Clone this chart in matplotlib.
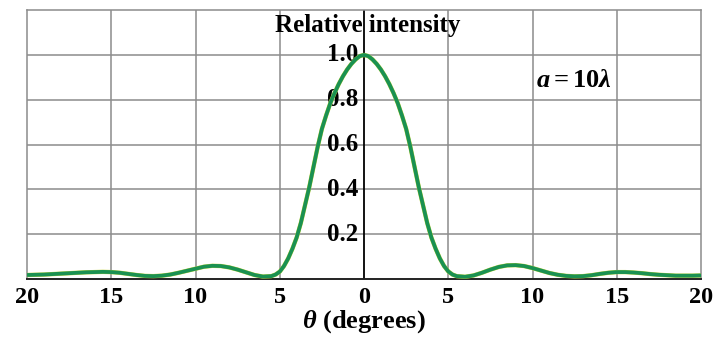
import matplotlib
matplotlib.use("Agg")
import matplotlib.pyplot as plt

# single-slit pattern, a = 10 lambda
theta_deg = [-20, -19.5, -19, -18.5, -18, -17.5, -17, -16.5, -16, -15.5, -15,
             -14.5, -14, -13.5, -13, -12.5, -12, -11.5, -11, -10.5, -10,
             -9.5, -9, -8.5, -8, -7.5, -7, -6.5, -6, -5.5, -5.25, -5,
             -4.75, -4.5, -4.25, -4, -3.75, -3.5, -3.25, -3, -2.75, -2.5,
             -2.25, -2, -1.75, -1.5, -1.25, -1, -0.75, -0.5, -0.25, 0,
             0.25, 0.5, 0.75, 1, 1.25, 1.5, 1.75, 2, 2.25, 2.5, 2.75, 3,
             3.25, 3.5, 3.75, 4, 4.25, 4.5, 4.75, 5, 5.25, 5.5, 6, 6.5, 7,
             7.5, 8, 8.5, 9, 9.5, 10, 10.5, 11, 11.5, 12, 12.5, 13, 13.5,
             14, 14.5, 15, 15.5, 16, 16.5, 17, 17.5, 18, 18.5, 19, 19.5, 20]
intensity = [0.018, 0.019, 0.020, 0.022, 0.024, 0.026, 0.028, 0.030, 0.031, 0.032, 0.031,
             0.028, 0.023, 0.018, 0.014, 0.013, 0.015, 0.020, 0.028, 0.037, 0.046,
             0.055, 0.059, 0.058, 0.052, 0.042, 0.030, 0.018, 0.011, 0.013, 0.020, 0.033,
             0.058, 0.092, 0.135, 0.185, 0.25, 0.33, 0.41, 0.50, 0.59, 0.67,
             0.73, 0.785, 0.83, 0.87, 0.905, 0.935, 0.96, 0.98, 0.995, 1.0,
             0.995, 0.98, 0.96, 0.935, 0.905, 0.87, 0.83, 0.785, 0.73, 0.67, 0.59, 0.50,
             0.41, 0.33, 0.25, 0.185, 0.135, 0.092, 0.058, 0.034, 0.020, 0.013, 0.010, 0.016, 0.028,
             0.042, 0.054, 0.061, 0.062, 0.058, 0.049, 0.038, 0.027, 0.019, 0.014, 0.012, 0.013, 0.017,
             0.023, 0.028, 0.031, 0.031, 0.029, 0.026, 0.022, 0.019, 0.017, 0.015, 0.015, 0.015, 0.016]

x_ticks = [-20, -15, -10, -5, 0, 5, 10, 15, 20]
x_tick_labels = ["20", "15", "10", "5", "0", "5", "10", "15", "20"]
y_levels = [0.2, 0.4, 0.6, 0.8, 1.0]
y_level_labels = ["0.2", "0.4", "0.6", "0.8", "1.0"]

plt.rcParams["font.family"] = ["Liberation Serif", "DejaVu Serif"]
plt.rcParams["font.weight"] = "bold"
plt.rcParams["mathtext.fontset"] = "custom"
plt.rcParams["mathtext.rm"] = "Liberation Serif:bold"
plt.rcParams["mathtext.it"] = "Liberation Serif:italic:bold"
plt.rcParams["mathtext.bf"] = "Liberation Serif:bold"

GRID = "#8c8c8c"

fig = plt.figure(figsize=(7.17, 3.37), dpi=100)
ax = fig.add_axes([0.0377, 0.172, 0.940, 0.798])

ax.set_xlim(-20, 20)
ax.set_ylim(0, 1.2)

for xv in x_ticks[1:-1]:
    if xv == 0:
        ax.axvline(xv, color="black", lw=1.3, zorder=2)
    else:
        ax.axvline(xv, color=GRID, lw=1.1, zorder=1)
for yv in y_levels:
    ax.axhline(yv, color=GRID, lw=1.1, zorder=1)

for sp in ["top", "left", "right"]:
    ax.spines[sp].set_color(GRID)
    ax.spines[sp].set_linewidth(1.1)
ax.spines["bottom"].set_color("#222222")
ax.spines["bottom"].set_linewidth(1.4)

ax.set_xticks(x_ticks)
ax.set_xticklabels(x_tick_labels, fontsize=17.5, fontweight="bold")
ax.set_yticks([])
ax.tick_params(axis="x", length=0, pad=6)

for yv, lab in zip(y_levels, y_level_labels):
    ax.text(-0.35, yv, lab, ha="right", va="center", fontsize=18,
            fontweight="bold", zorder=3)

ax.text(0.2, 1.13, "Relative intensity", ha="center", va="center",
        fontsize=18, fontweight="bold", zorder=3)
ax.text(10.2, 0.885, r"$a = 10\lambda$", ha="left", va="center", fontsize=19)

ax.plot(theta_deg, intensity, color="#c4d43a", lw=3.1, zorder=4,
        solid_capstyle="butt", clip_on=False)
ax.plot(theta_deg, intensity, color="#1a9152", lw=2.7, zorder=5,
        solid_capstyle="butt", clip_on=False)

ax.set_xlabel(r"$\theta$ (degrees)", fontsize=19, fontweight="bold", labelpad=0)

fig.savefig("out.png", dpi=100, facecolor="white")
